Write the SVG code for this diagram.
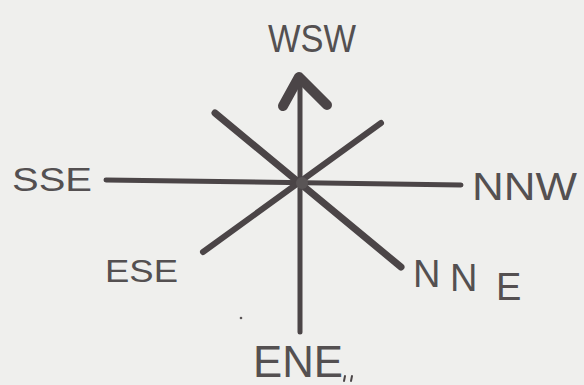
<svg xmlns="http://www.w3.org/2000/svg" width="584" height="385" viewBox="0 0 584 385">
  <style>
    .bg { fill: #efefed; }
    .ln { stroke: #4b4547; stroke-linecap: round; fill: none; }
    .lbl { font-family: "Liberation Sans", "DejaVu Sans", sans-serif; fill: #545051; font-weight: normal; }
    .mark { fill: #5a5556; }
  </style>
  <rect class="bg" x="0" y="0" width="584" height="385"/>
  <g id="connectors">
    <line class="ln" x1="106" y1="180" x2="461" y2="185" stroke-width="5"/>
    <line class="ln" x1="215" y1="113" x2="401" y2="267" stroke-width="7"/>
    <line class="ln" x1="381" y1="123" x2="203" y2="252" stroke-width="6"/>
    <line class="ln" x1="300" y1="332" x2="300" y2="80" stroke-width="5"/>
    <path class="ln" d="M283,106 L299,77 L327,105" stroke-width="10" stroke-linejoin="round"/>
    <circle class="mark" cx="302" cy="183" r="6"/>
  </g>
  <g id="node-wsw"><text class="lbl" x="268" y="52" font-size="38" textLength="88" lengthAdjust="spacingAndGlyphs">WSW</text></g>
  <g id="node-sse"><text class="lbl" x="12" y="191" font-size="33" textLength="80" lengthAdjust="spacingAndGlyphs">SSE</text></g>
  <g id="node-nnw"><text class="lbl" x="472" y="200" font-size="38" textLength="105" lengthAdjust="spacingAndGlyphs">NNW</text></g>
  <g id="node-ese"><text class="lbl" x="105" y="282" font-size="32" textLength="73" lengthAdjust="spacingAndGlyphs">ESE</text></g>
  <g id="node-nne"><text class="lbl" font-size="38"><tspan x="413" y="287">N</tspan><tspan x="450" y="291">N</tspan><tspan x="496" y="300">E</tspan></text></g>
  <g id="node-ene"><text class="lbl" x="253" y="377" font-size="44" textLength="90" lengthAdjust="spacingAndGlyphs">ENE</text></g>
  <g id="marks">
    <circle class="mark" cx="241" cy="318" r="1.3"/>
    <line class="ln" x1="345" y1="376" x2="344" y2="381" stroke-width="2"/>
    <line class="ln" x1="352" y1="376" x2="351" y2="381" stroke-width="2"/>
  </g>
</svg>
